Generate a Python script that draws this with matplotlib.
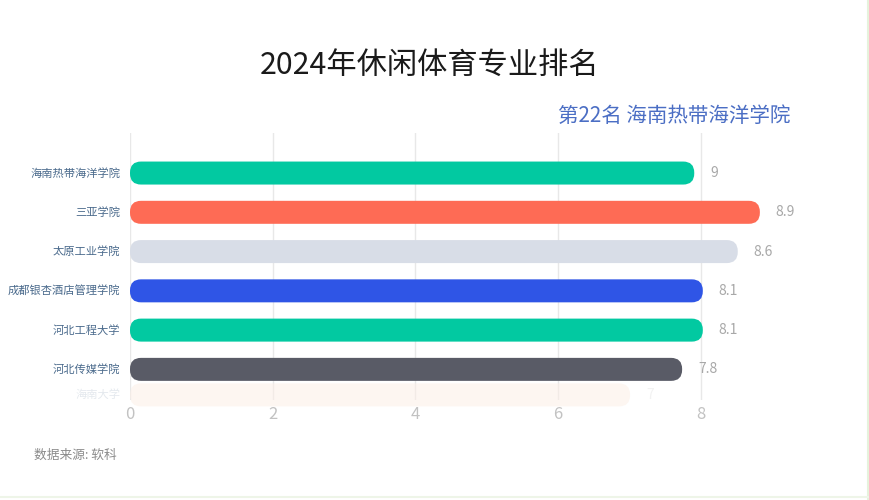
import matplotlib
matplotlib.use("Agg")
import matplotlib.pyplot as plt
from matplotlib.patches import FancyBboxPatch
from matplotlib.lines import Line2D

plt.rcParams['font.family'] = ['Noto Sans CJK SC', 'DejaVu Sans']

# ---- data ----
title = "2024年休闲体育专业排名"
subtitle = "第22名 海南热带海洋学院"
source = "数据来源: 软科"
schools = ["海南热带海洋学院", "三亚学院", "太原工业学院", "成都银杏酒店管理学院",
           "河北工程大学", "河北传媒学院", "海南大学"]
values = ["9", "8.9", "8.6", "8.1", "8.1", "7.8", "7"]
# bar extents as displayed in the (mid-animation) frame
bar_lengths = [7.91, 8.83, 8.52, 8.03, 8.03, 7.74, 7.01]
slot_pos = [0, 1, 2, 3, 4, 5, 5.65]
bar_alpha = [1, 1, 1, 1, 1, 1, 0.55]
text_alpha = [1, 1, 1, 1, 1, 1, 0.15]
colors = ["#02c9a1", "#fe6b55", "#d8dde7", "#2f55e6", "#02c9a1", "#595b66", "#fcefe6"]
xticks = [0, 2, 4, 6, 8]

W, H = 870, 500
fig = plt.figure(figsize=(W / 100, H / 100), dpi=100)
fig.patch.set_facecolor("white")

ax_l, ax_r, ax_t, ax_b = 130, 772, 133, 400
ax = fig.add_axes([ax_l / W, 1 - ax_b / H, (ax_r - ax_l) / W, (ax_b - ax_t) / H])
xmin, xmax = 0, 9
ytop, ybot = -1.02, 5.78
ax.set_xlim(xmin, xmax)
ax.set_ylim(ybot, ytop)

px_x = (ax_r - ax_l) / (xmax - xmin)
px_y = (ax_b - ax_t) / (ybot - ytop)
bar_h_px = 23
bh = bar_h_px / px_y
r_px = 11
aspect = px_x / px_y

for i, (L, p, c, a) in enumerate(zip(bar_lengths, slot_pos, colors, bar_alpha)):
    patch = FancyBboxPatch((0, p - bh / 2), L, bh,
                           boxstyle=f"round,pad=0,rounding_size={r_px / px_x}",
                           mutation_aspect=aspect,
                           facecolor=c, edgecolor="none", alpha=a,
                           clip_on=False, zorder=3)
    ax.add_patch(patch)
    ax.text(L + 16 / px_x, p, values[i], ha="left", va="center",
            fontsize=10, color="#a8a8a8", alpha=text_alpha[i], zorder=4,
            clip_on=False)
    ax.text(-10 / px_x, p, schools[i], ha="right", va="center",
            fontsize=8.1, color="#4a6a8c", alpha=text_alpha[i], clip_on=False)

ax.set_yticks([])
ax.set_xticks(xticks)
ax.set_xticklabels([str(t) for t in xticks])
ax.tick_params(axis="x", length=0, pad=4, labelsize=12, labelcolor="#c2c2c2")
for s in ax.spines.values():
    s.set_visible(False)
ax.grid(axis="x", color="#e8e8e8", linewidth=1, zorder=0)
ax.set_axisbelow(True)
ax.set_facecolor("none")

fig.text(430 / W, 1 - 65 / H, title, ha="center", va="center",
         fontsize=21.8, color="#1a1a1a")
fig.text(790 / W, 1 - 116 / H, subtitle, ha="right", va="center",
         fontsize=14.8, color="#4b6ec4")
fig.text(34 / W, 1 - 455 / H, source, ha="left", va="center",
         fontsize=9.2, color="#8a8a8a")

fig.add_artist(Line2D([868 / W, 868 / W], [0, 1], transform=fig.transFigure,
                      color="#e6f2dc", linewidth=1.5))
fig.add_artist(Line2D([0, 1], [3 / H, 3 / H], transform=fig.transFigure,
                      color="#eef5e8", linewidth=1.5))

fig.savefig("out.png", dpi=100, facecolor="white")
